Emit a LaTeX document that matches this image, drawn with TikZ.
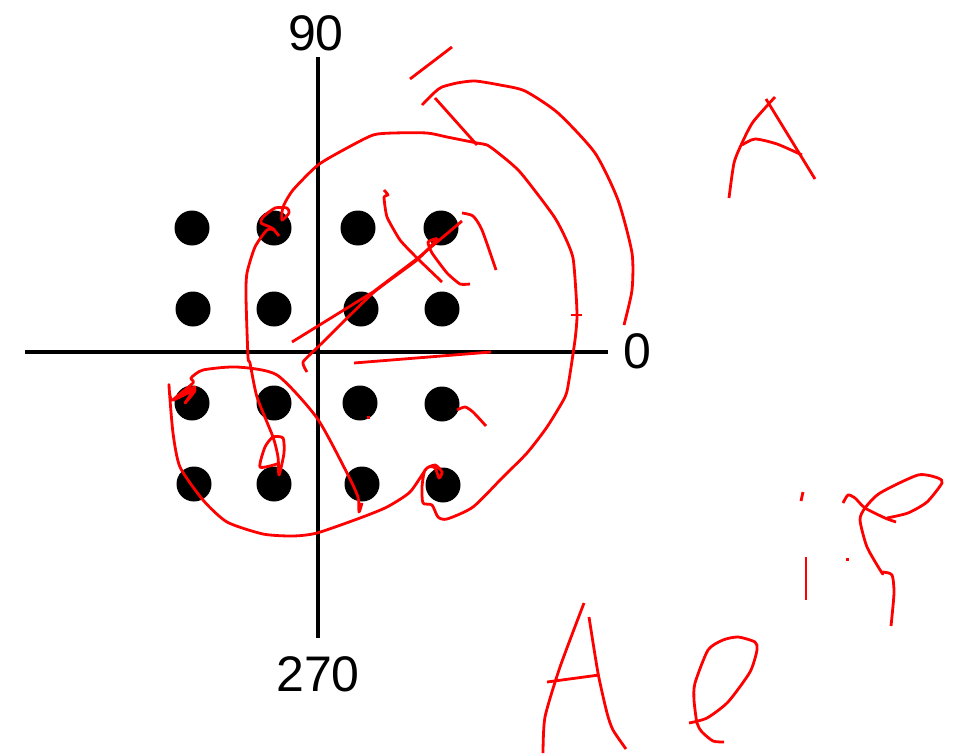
\documentclass[tikz,border=0pt]{standalone}
\usepackage{fontspec}
\setmainfont{Liberation Sans}
\tikzset{
  dot/.style={circle, fill=black, draw=none, minimum size=35pt, inner sep=0pt},
  axisline/.style={draw=black, line width=4.5pt},
  axislabel/.style={font=\fontsize{50}{50}\selectfont, inner sep=0pt},
  ink/.style={draw=red, line width=2.8pt, line join=round},
  speck/.style={fill=red, draw=none, minimum size=3pt, inner sep=0pt}
}
\begin{document}
\begin{tikzpicture}[x=1pt, y=-1pt]
\useasboundingbox (0,0) rectangle (957,755);
\foreach \dotname/\px/\py in {a/192/228, b/274/228, c/358/228, d/441/228,
                              e/193/309, f/274/309, g/361/309, h/442/309,
                              i/192/403, j/274/403, k/360/403, l/442/404,
                              m/194/484, n/274/484, o/362/484, p/443/485}
  \node[dot] (\dotname) at (\px,\py) {};
\coordinate (north) at (318,57);
\coordinate (south) at (318,638);
\coordinate (west) at (25,352);
\coordinate (east) at (608,352);
\draw[axisline] (north) -- (south);
\draw[axisline] (west) -- (east);
\node[axislabel] (lab90) at (316,33) {90};
\node[axislabel] (lab270) at (318,674) {270};
\node[axislabel] (lab0) at (637,351) {0};

\draw[ink] plot[smooth, tension=0.4] coordinates {(279,236) (272,228) (261,223) (263,217) (275,208) (287,208) (289,213) (282,220) (283,207) (293,190) (318,165) (347,148) (373,135) (393,133) (427,133) (447,137) (477,143) (487,145) (497,152) (520,172) (553,215) (565,237) (573,258) (576,293) (577,317) (575,340) (569,380) (565,397) (547,427) (527,453) (503,477) (473,507) (447,519) (438,517) (432,505) (423,503) (422,487) (425,470) (435,465) (442,472) (439,478) (435,468) (427,468) (410,492) (387,507) (360,518) (317,533) (293,536) (263,534) (227,522) (203,500) (180,467) (173,433) (169,385) (172,400) (195,387) (185,403) (195,390) (173,400) (193,383) (191,378) (203,370) (237,367) (277,375) (317,418) (347,473) (358,497) (359,512) (362,503)};
\draw[ink] plot[smooth, tension=0.4] coordinates {(275,230) (267,230) (255,247) (247,273) (246,297) (248,357) (250,363) (257,397) (273,437) (278,457) (279,475) (284,453) (283,438) (273,437) (265,447) (260,467) (277,464)};
\draw[ink] plot[smooth, tension=0.4] coordinates {(422,105) (435,92) (442,87) (457,83) (475,81) (500,85) (525,91) (558,113) (595,153) (618,200) (632,253) (632,290) (624,325)};
\draw[ink] (410,79) -- (452,47);
\draw[ink] (435,98) -- (477,145);
\draw[ink] (571,315) -- (582,315);
\draw[ink] (292,342) -- (373,292) -- (418,258) -- (462,221);
\draw[ink] plot[smooth, tension=0.3] coordinates {(307,372) (303,362) (320,345) (373,293) (417,260) (437,239) (428,242) (432,253) (447,273) (460,284) (470,284)};
\draw[ink] plot[smooth, tension=0.3] coordinates {(384,190) (388,195) (384,197) (387,217) (400,240) (417,258) (442,282)};
\draw[ink] plot[smooth, tension=0.4] coordinates {(462,213) (473,216) (482,230) (496,270)};
\draw[ink] (354,363) -- (491,352);
\draw[ink] plot[smooth, tension=0.4] coordinates {(457,410) (465,407) (473,412) (486,426)};
\node[speck] (speckdot) at (368,417) {};

\draw[ink] plot[smooth, tension=0.4] coordinates {(729,198) (734,163) (742,143) (753,122) (775,97)};
\draw[ink] (766,99) -- (815,179);
\draw[ink] plot[smooth, tension=0.4] coordinates {(742,145) (755,139) (777,144) (802,155)};

\draw[ink] plot[smooth, tension=0.4] coordinates {(584,603) (560,667) (545,717) (543,753)};
\draw[ink] plot[smooth, tension=0.4] coordinates {(589,617) (598,673) (607,713) (613,730) (626,749)};
\draw[ink] (547,682) -- (599,675);
\draw[ink] plot[smooth, tension=0.4] coordinates {(689,723) (707,718) (728,702) (750,672) (757,650) (755,642) (738,637) (723,640) (708,650) (695,683) (694,700) (697,723) (702,732) (713,741) (724,742)};

\draw[ink] (803,492) -- (801,501);
\draw[ink] (806,557) -- (806,600);
\node[speck] (speckp) at (847,559) {};
\draw[ink] plot[smooth, tension=0.4] coordinates {(843,503) (848,495) (855,498) (865,508) (885,518) (896,522)};
\draw[ink] plot[smooth, tension=0.4] coordinates {(887,518) (908,513) (927,502) (942,483) (938,478) (918,475) (880,493) (865,508) (860,520) (867,547) (882,573) (883,572) (892,575) (894,593) (891,626)};
\end{tikzpicture}
\end{document}
